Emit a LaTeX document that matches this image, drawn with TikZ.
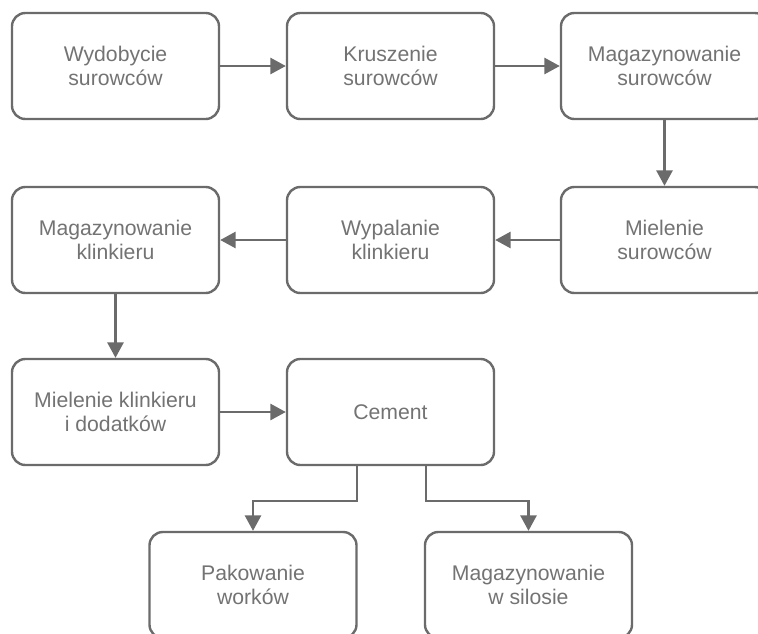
\documentclass[tikz,border=0pt]{standalone}
\usepackage{fontspec}
\setmainfont{Liberation Sans}
\usetikzlibrary{arrows.meta}
\definecolor{linegray}{HTML}{6B6B6B}
\definecolor{textgray}{HTML}{737373}
\tikzset{
  procbox/.style={draw=linegray, line width=1.8pt, rounded corners=10pt, fill=white,
    minimum width=155.25pt, minimum height=79.5pt, align=center, text=textgray,
    font=\fontsize{15.9pt}{18.6pt}\selectfont, inner sep=0pt},
  flow/.style={draw=linegray, line width=1.8pt, -{Triangle[length=11.5pt,width=12pt]}}
}
\begin{document}
\begin{tikzpicture}[x=0.75pt,y=-0.75pt]
\useasboundingbox (0,0) rectangle (758,633);
\clip (0,0) rectangle (758,633);
\node[procbox] (wyd) at (115.5,66) {Wydobycie\\surowców};
\node[procbox] (kru) at (390.5,66) {Kruszenie\\surowców};
\node[procbox] (mag) at (664.5,66) {Magazynowanie\\surowców};
\node[procbox] (mie) at (664.5,240) {Mielenie\\surowców};
\node[procbox] (wyp) at (390.5,240) {Wypalanie\\klinkieru};
\node[procbox] (mkl) at (115.5,240) {Magazynowanie\\klinkieru};
\node[procbox] (mdk) at (115.5,412) {Mielenie klinkieru\\i dodatków};
\node[procbox] (cem) at (390.5,412) {Cement};
\node[procbox] (pak) at (253,585) {Pakowanie\\worków};
\node[procbox] (sil) at (528.5,585) {Magazynowanie\\w silosie};
\coordinate (cl) at (357,0);
\coordinate (cr) at (426,0);
\draw[flow] (wyd) -- (kru);
\draw[flow] (kru) -- (mag);
\draw[flow] (mag) -- (mie);
\draw[flow] (mie) -- (wyp);
\draw[flow] (wyp) -- (mkl);
\draw[flow] (mkl) -- (mdk);
\draw[flow] (mdk) -- (cem);
\draw[flow] (cem.south -| cl) |- (253,501) -- (pak.north);
\draw[flow] (cem.south -| cr) |- (528.5,501) -- (sil.north);
\end{tikzpicture}
\end{document}
